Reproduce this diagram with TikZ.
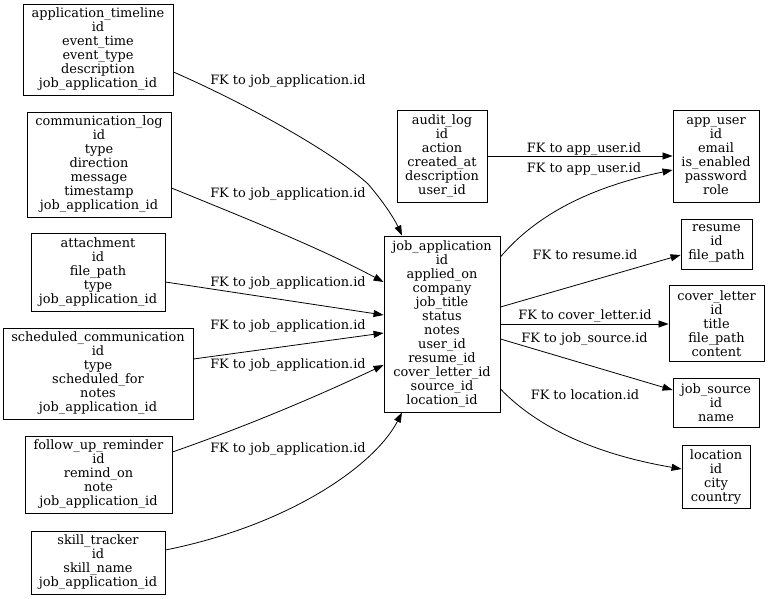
\documentclass[tikz,border=0pt]{standalone}
\usepackage{fontspec}
\setmainfont{DejaVu Serif}
\usetikzlibrary{arrows.meta}
\tikzset{
  tbl/.style={draw=black, line width=0.9pt, inner sep=0pt, align=center, font=\fontsize{12.9}{14}\selectfont},
  fk/.style={draw=black, line width=0.8pt, -{Triangle[length=10pt,width=7pt]}},
  lbl/.style={inner sep=0pt, font=\fontsize{12.9}{14}\selectfont}
}
\begin{document}
\begin{tikzpicture}[x=1pt,y=-1pt]
\useasboundingbox (0,0) rectangle (768,599);
% left column
\node[tbl, minimum width=150pt, minimum height=91pt] (at) at (98,49.5) {application\_timeline\\id\\event\_time\\event\_type\\description\\job\_application\_id};
\node[tbl, minimum width=144pt, minimum height=105pt] (cl) at (99,164.5) {communication\_log\\id\\type\\direction\\message\\timestamp\\job\_application\_id};
\node[tbl, minimum width=134pt, minimum height=78pt] (att) at (98,272) {attachment\\id\\file\_path\\type\\job\_application\_id};
\node[tbl, minimum width=190pt, minimum height=91pt] (sc) at (98,373.5) {scheduled\_communication\\id\\type\\scheduled\_for\\notes\\job\_application\_id};
\node[tbl, minimum width=147pt, minimum height=77pt] (fu) at (98.5,474.5) {follow\_up\_reminder\\id\\remind\_on\\note\\job\_application\_id};
\node[tbl, minimum width=134pt, minimum height=63pt] (st) at (98,562.5) {skill\_tracker\\id\\skill\_name\\job\_application\_id};
% middle
\node[tbl, minimum width=90pt, minimum height=92pt] (au) at (442,156) {audit\_log\\id\\action\\created\_at\\description\\user\_id};
\node[tbl, minimum width=116pt, minimum height=176pt] (ja) at (442,324) {job\_application\\id\\applied\_on\\company\\job\_title\\status\\notes\\user\_id\\resume\_id\\cover\_letter\_id\\source\_id\\location\_id};
% right column
\node[tbl, minimum width=86pt, minimum height=92pt] (usr) at (716,156) {app\_user\\id\\email\\is\_enabled\\password\\role};
\node[tbl, minimum width=71pt, minimum height=50pt] (res) at (716.5,244) {resume\\id\\file\_path};
\node[tbl, minimum width=95pt, minimum height=76pt] (cvl) at (716.5,323.3) {cover\_letter\\id\\title\\file\_path\\content};
\node[tbl, minimum width=86pt, minimum height=49pt] (src) at (716,402.5) {job\_source\\id\\name};
\node[tbl, minimum width=68pt, minimum height=63pt] (loc) at (716,477) {location\\id\\city\\country};
% left edges
\coordinate (bendA) at (368,184);
\draw[fk] ([yshift=-22.5pt]at.east) .. controls (260,110) and (340,158) .. (bendA) .. controls (382,200) and (394,218) .. ([xshift=-40pt]ja.north);
\draw[fk] ([yshift=-23.5pt]cl.east) .. controls (250,220) and (320,248) .. ([yshift=42pt]ja.west);
\draw[fk] ([yshift=-10pt]att.east) -- ([yshift=9pt]ja.west);
\draw[fk] ([yshift=14.5pt]sc.east) -- ([yshift=-9pt]ja.west);
\draw[fk] ([yshift=22.5pt]fu.east) .. controls (250,425) and (320,395) .. ([yshift=-41pt]ja.west);
\draw[fk] ([yshift=12.5pt]st.east) .. controls (290,525) and (375,465) .. ([xshift=-40pt]ja.south);
\node[lbl] (l1) at (288,81) {FK to job\_application.id};
\node[lbl] (l2) at (288,194) {FK to job\_application.id};
\node[lbl] (l3) at (288,283) {FK to job\_application.id};
\node[lbl] (l4) at (288,326.5) {FK to job\_application.id};
\node[lbl] (l5) at (288,365.5) {FK to job\_application.id};
\node[lbl] (l6) at (288,449) {FK to job\_application.id};
% right edges
\draw[fk] (au.east) -- (usr.west);
\draw[fk] ([yshift=67pt]ja.east) .. controls (540,210) and (600,185) .. ([yshift=-14pt]usr.west);
\draw[fk] ([yshift=17pt]ja.east) -- ([yshift=-11pt]res.west);
\draw[fk] (ja.east) -- (ja.east -| cvl.west);
\draw[fk] ([yshift=-15pt]ja.east) -- ([yshift=12.5pt]src.west);
\draw[fk] ([yshift=-65pt]ja.east) .. controls (540,430) and (600,455) .. ([yshift=8pt]loc.west);
\node[lbl] (r1) at (584,149) {FK to app\_user.id};
\node[lbl] (r2) at (584,169) {FK to app\_user.id};
\node[lbl] (r3) at (585,255) {FK to resume.id};
\node[lbl] (r4) at (585,316) {FK to cover\_letter.id};
\node[lbl] (r5) at (584.5,339) {FK to job\_source.id};
\node[lbl] (r6) at (585,395) {FK to location.id};
\end{tikzpicture}
\end{document}
